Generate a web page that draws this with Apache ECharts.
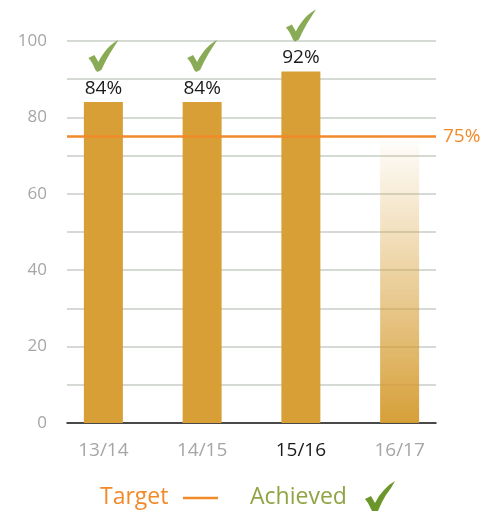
<!DOCTYPE html>
<html><head><meta charset="utf-8">
<script src="https://cdn.jsdelivr.net/npm/echarts@6/dist/echarts.min.js"></script>
<style>html,body{margin:0;padding:0;background:#fff}#c{width:484px;height:511px}</style>
</head><body><div id="c"></div>
<script>
const categories = ['13/14', '14/15', '15/16', '16/17'];
const achieved = [84, 84, 92, null];
const projected = [null, null, null, 74];
const checks = [84, 84, 92, null];
const targetValue = 75;
const yTicks = [0, 20, 40, 60, 80, 100];

const FONT = 'Open Sans';
const checkPath = 'path://M0,18 L6,15 L10,22 C15,12 22,4 30,0 C25,8 18,18 13,30 L9,32 L7,30 C5,25 3,21 0,18 Z';
const checkPoly = [[0,18],[6,15],[10,22],[14,15],[19,9],[24,4],[30,0],[26,7],[21,14],[17,21],[13,30],[9,32],[7,30],[5,26],[3,22]];

const chart = echarts.init(document.getElementById('c'), null, {renderer: 'canvas'});
chart.setOption({
  animation: false,
  textStyle: {fontFamily: FONT},
  grid: [
    {left: 67, right: 48, top: 41, bottom: 88},
    {left: 54, right: 35, top: 41, bottom: 88}
  ],
  xAxis: [
    {gridIndex: 0, type: 'value', min: 0, max: 1, axisLine: {show: true, onZero: false, lineStyle: {color: '#1a1a1a', width: 1.5}},
     axisTick: {show: false}, axisLabel: {show: false}, splitLine: {show: false}},
    {gridIndex: 1, type: 'category', data: categories, axisLine: {show: false}, axisTick: {show: false},
     axisLabel: {interval: 0, margin: 18, fontSize: 19, fontFamily: FONT,
       formatter: v => v === '15/16' ? '{b|' + v + '}' : '{a|' + v + '}',
       rich: {a: {color: '#a6a6a6', fontSize: 19, fontFamily: FONT}, b: {color: '#1a1a1a', fontSize: 19, fontFamily: FONT}}}}
  ],
  yAxis: [
    {gridIndex: 0, type: 'value', min: 0, max: 100, interval: 10,
     axisLine: {show: false}, axisTick: {show: false},
     axisLabel: {margin: 20, fontSize: 17, color: '#a6a6a6', fontFamily: FONT,
       formatter: v => yTicks.indexOf(v) >= 0 ? String(v) : ''},
     splitLine: {lineStyle: {color: '#c9cec6', width: 1.5}}},
    {gridIndex: 1, type: 'value', min: 0, max: 100, show: false}
  ],
  series: [
    {type: 'bar', xAxisIndex: 1, yAxisIndex: 1, data: achieved, barWidth: 39, z: 3,
     itemStyle: {color: '#d89f36'},
     label: {show: true, position: 'top', distance: 4, color: '#1a1a1a', fontSize: 19, fontFamily: FONT, formatter: p => p.value + '%'}},
    {type: 'bar', xAxisIndex: 1, yAxisIndex: 1, data: projected, barWidth: 39, barGap: '-100%', z: 3,
     itemStyle: {color: new echarts.graphic.LinearGradient(0, 0, 0, 1, [
       {offset: 0, color: 'rgba(216,159,54,0.02)'},
       {offset: 1, color: 'rgba(212,154,46,0.95)'}])}},
    {type: 'line', xAxisIndex: 0, yAxisIndex: 0, data: [[0, targetValue], [1, targetValue]], z: 5,
     symbol: 'none', lineStyle: {color: '#f28a2a', width: 2.5},
     endLabel: {show: true, formatter: targetValue + '%', color: '#f28a2a', fontSize: 19, fontFamily: FONT, distance: 7}},
    {type: 'scatter', xAxisIndex: 1, yAxisIndex: 1, data: checks, z: 6,
     symbol: checkPath, symbolSize: [30, 32], symbolOffset: [0, -46],
     itemStyle: {color: '#6b962a'}}
  ],
  graphic: [
    {type: 'text', x: 100, y: 497, style: {text: 'Target', fill: '#f28a2a', fontSize: 23, fontFamily: FONT, verticalAlign: 'middle'}},
    {type: 'line', shape: {x1: 183, y1: 498, x2: 218, y2: 498}, style: {stroke: '#f28a2a', lineWidth: 2.5}},
    {type: 'text', x: 250, y: 497, style: {text: 'Achieved', fill: '#90a444', fontSize: 23, fontFamily: FONT, verticalAlign: 'middle'}},
    {type: 'polygon', shape: {points: checkPoly}, x: 365, y: 481, style: {fill: '#6b962a'}}
  ]
});
</script></body></html>
